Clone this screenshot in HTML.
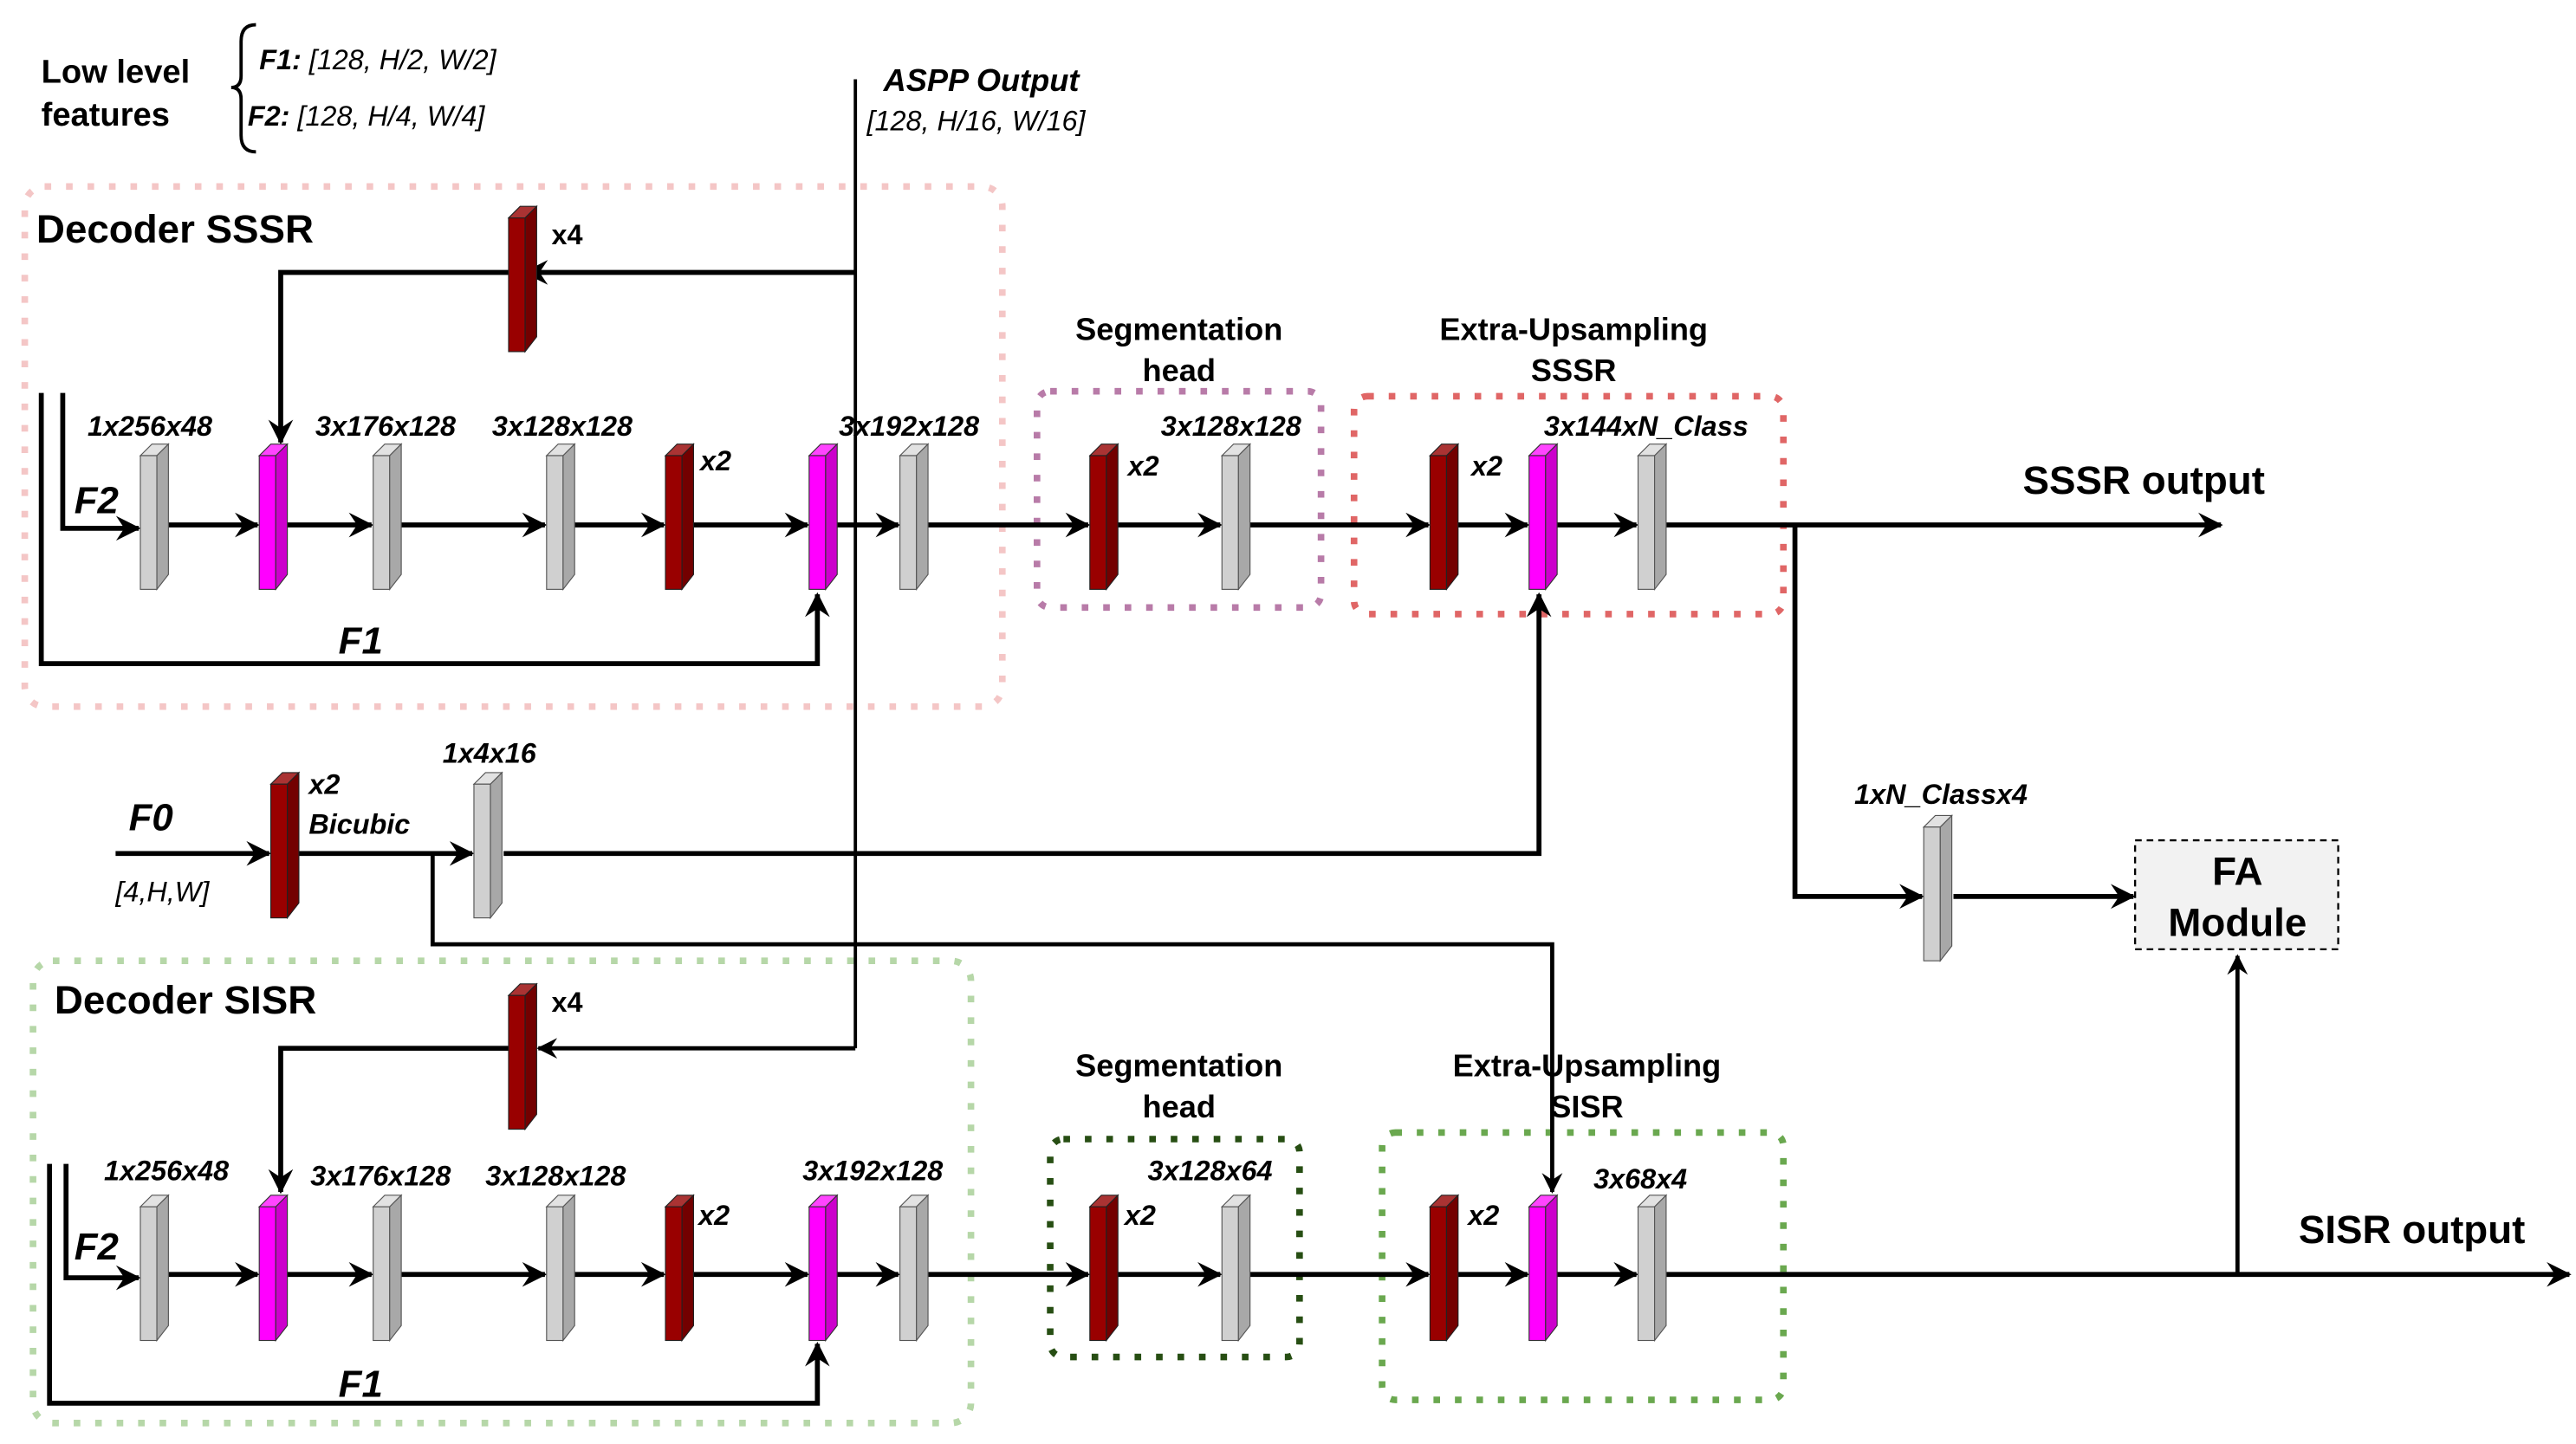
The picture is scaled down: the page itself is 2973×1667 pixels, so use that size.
<!DOCTYPE html>
<html><head><meta charset="utf-8"><style>
html,body{margin:0;padding:0;background:#fff;}
svg{display:block;}
text{font-family:"Liberation Sans",Arial,sans-serif;fill:#000;}
.b{font-weight:bold;}
.bi{font-weight:bold;font-style:italic;}
.i{font-style:italic;}
</style></head><body>
<svg width="2973" height="1667" viewBox="0 0 1560 874.7" preserveAspectRatio="none" xmlns="http://www.w3.org/2000/svg">
<defs>
<marker id="ar" viewBox="0 0 12 12" refX="11" refY="6" markerWidth="5" markerHeight="5" orient="auto" markerUnits="strokeWidth">
<path d="M0,0 L12,6 L0,12 L4,6 z" fill="#000"/></marker>
<g id="gray"><polygon points="0,7 7,0 17,0 10,7" fill="#e2e2e2" stroke="#555" stroke-width="0.6"/><rect x="0" y="7" width="10" height="81" fill="#d0d0d0" stroke="#555" stroke-width="0.6"/><polygon points="10,7 17,0 17,79 10,88" fill="#a8a8a8" stroke="#555" stroke-width="0.6"/></g>
<g id="mag"><polygon points="0,7 7,0 17,0 10,7" fill="#ff44ff" stroke="#333" stroke-width="0.6"/><rect x="0" y="7" width="10" height="81" fill="#ff00ff" stroke="#333" stroke-width="0.6"/><polygon points="10,7 17,0 17,79 10,88" fill="#cc00cc" stroke="#333" stroke-width="0.6"/></g>
<g id="red"><polygon points="0,7 7,0 17,0 10,7" fill="#aa3333" stroke="#222" stroke-width="0.6"/><rect x="0" y="7" width="10" height="81" fill="#990000" stroke="#222" stroke-width="0.6"/><polygon points="10,7 17,0 17,79 10,88" fill="#730000" stroke="#222" stroke-width="0.6"/></g>
</defs>

<!-- dotted boxes -->
<g fill="none" stroke-width="4" stroke-dasharray="4,9">
<rect x="15" y="113" width="592" height="315" rx="12" stroke="#f4c6c6"/>
<rect x="20" y="582" width="568" height="280" rx="12" stroke="#b6d7a8"/>
<rect x="628" y="237" width="172" height="131" rx="8" stroke="#b87ba8"/>
<rect x="820" y="240" width="260" height="132" rx="8" stroke="#e06666"/>
<rect x="636" y="690" width="151" height="132" rx="8" stroke="#274e13"/>
<rect x="837" y="686" width="243" height="162" rx="8" stroke="#6aa84f"/>
</g>

<!-- top text -->
<text x="25" y="50" class="b" font-size="20">Low level</text>
<text x="25" y="76" class="b" font-size="20">features</text>
<path d="M155,15 Q146,15 146,25 L146,46 Q146,53 140,53 Q146,53 146,60 L146,82 Q146,92 155,92" fill="none" stroke="#000" stroke-width="2"/>
<text x="157" y="42" font-size="17" class="i"><tspan class="bi">F1:</tspan> [128, H/2, W/2]</text>
<text x="150" y="76" font-size="17" class="i"><tspan class="bi">F2:</tspan> [128, H/4, W/4]</text>
<text x="535" y="55" class="bi" font-size="19">ASPP Output</text>
<text x="525" y="79" class="i" font-size="17">[128, H/16, W/16]</text>

<g stroke="#000" stroke-width="3" fill="none">
<!-- ASPP vertical -->
<line x1="518" y1="48" x2="518" y2="635" stroke-width="2"/>
<!-- SSSR decoder -->
<line x1="518" y1="165" x2="318" y2="165" marker-end="url(#ar)"/>
<polyline points="308,165 170,165 170,268" marker-end="url(#ar)"/>
<polyline points="25,238 25,402 495,402 495,360" marker-end="url(#ar)"/>
<polyline points="38,238 38,320 84,320" marker-end="url(#ar)"/>
<line x1="102" y1="318" x2="156" y2="318" marker-end="url(#ar)"/>
<line x1="174" y1="318" x2="225" y2="318" marker-end="url(#ar)"/>
<line x1="243" y1="318" x2="330" y2="318" marker-end="url(#ar)"/>
<line x1="348" y1="318" x2="402" y2="318" marker-end="url(#ar)"/>
<line x1="420" y1="318" x2="489" y2="318" marker-end="url(#ar)"/>
<line x1="507" y1="318" x2="544" y2="318" marker-end="url(#ar)"/>
<line x1="562" y1="318" x2="659" y2="318" marker-end="url(#ar)"/>
<line x1="677" y1="318" x2="739" y2="318" marker-end="url(#ar)"/>
<line x1="757" y1="318" x2="865" y2="318" marker-end="url(#ar)"/>
<line x1="883" y1="318" x2="925" y2="318" marker-end="url(#ar)"/>
<line x1="943" y1="318" x2="991" y2="318" marker-end="url(#ar)"/>
<line x1="1009" y1="318" x2="1345" y2="318" marker-end="url(#ar)"/>
<polyline points="1087,318 1087,543 1164,543" marker-end="url(#ar)"/>
<line x1="1183" y1="543" x2="1292" y2="543" marker-end="url(#ar)"/>
<!-- F0 -->
<line x1="70" y1="517" x2="163" y2="517" marker-end="url(#ar)"/>
<line x1="181" y1="517" x2="286" y2="517" marker-end="url(#ar)"/>
<polyline points="305,517 932,517 932,360" marker-end="url(#ar)"/>
<polyline points="262,517 262,572 940,572 940,722" stroke-width="2.5" marker-end="url(#ar)"/>
<!-- SISR decoder -->
<line x1="518" y1="635" x2="326" y2="635" stroke-width="2.5" marker-end="url(#ar)"/>
<polyline points="308,635 170,635 170,722" marker-end="url(#ar)"/>
<polyline points="30,705 30,850 495,850 495,814" marker-end="url(#ar)"/>
<polyline points="40,705 40,774 84,774" marker-end="url(#ar)"/>
<line x1="102" y1="772" x2="156" y2="772" marker-end="url(#ar)"/>
<line x1="174" y1="772" x2="225" y2="772" marker-end="url(#ar)"/>
<line x1="243" y1="772" x2="330" y2="772" marker-end="url(#ar)"/>
<line x1="348" y1="772" x2="402" y2="772" marker-end="url(#ar)"/>
<line x1="420" y1="772" x2="489" y2="772" marker-end="url(#ar)"/>
<line x1="507" y1="772" x2="544" y2="772" marker-end="url(#ar)"/>
<line x1="562" y1="772" x2="659" y2="772" marker-end="url(#ar)"/>
<line x1="677" y1="772" x2="739" y2="772" marker-end="url(#ar)"/>
<line x1="757" y1="772" x2="865" y2="772" marker-end="url(#ar)"/>
<line x1="883" y1="772" x2="925" y2="772" marker-end="url(#ar)"/>
<line x1="943" y1="772" x2="991" y2="772" marker-end="url(#ar)"/>
<line x1="1009" y1="772" x2="1556" y2="772" marker-end="url(#ar)"/>
<line x1="1355" y1="772" x2="1355" y2="579" stroke-width="2.5" marker-end="url(#ar)"/>
</g>

<!-- FA module -->
<rect x="1293" y="509" width="123" height="66" fill="#f2f2f2" stroke="#000" stroke-width="1.2" stroke-dasharray="4,3"/>
<text x="1355" y="536" class="b" font-size="24" text-anchor="middle">FA</text>
<text x="1355" y="567" class="b" font-size="24" text-anchor="middle">Module</text>

<!-- blocks SSSR -->
<use href="#red" x="308" y="125"/>
<use href="#gray" x="85" y="269"/>
<use href="#mag" x="157" y="269"/>
<use href="#gray" x="226" y="269"/>
<use href="#gray" x="331" y="269"/>
<use href="#red" x="403" y="269"/>
<use href="#mag" x="490" y="269"/>
<use href="#gray" x="545" y="269"/>
<use href="#red" x="660" y="269"/>
<use href="#gray" x="740" y="269"/>
<use href="#red" x="866" y="269"/>
<use href="#mag" x="926" y="269"/>
<use href="#gray" x="992" y="269"/>
<use href="#gray" x="1165" y="494"/>
<use href="#red" x="164" y="468"/>
<use href="#gray" x="287" y="468"/>
<!-- blocks SISR -->
<use href="#red" x="308" y="596"/>
<use href="#gray" x="85" y="724"/>
<use href="#mag" x="157" y="724"/>
<use href="#gray" x="226" y="724"/>
<use href="#gray" x="331" y="724"/>
<use href="#red" x="403" y="724"/>
<use href="#mag" x="490" y="724"/>
<use href="#gray" x="545" y="724"/>
<use href="#red" x="660" y="724"/>
<use href="#gray" x="740" y="724"/>
<use href="#red" x="866" y="724"/>
<use href="#mag" x="926" y="724"/>
<use href="#gray" x="992" y="724"/>

<!-- labels -->
<text x="22" y="147" class="b" font-size="24">Decoder SSSR</text>
<text x="33" y="614" class="b" font-size="24">Decoder SISR</text>
<text x="334" y="148" class="b" font-size="17">x4</text>
<text x="334" y="613" class="b" font-size="17">x4</text>
<g class="bi" font-size="17">
<text x="53" y="264">1x256x48</text>
<text x="191" y="264">3x176x128</text>
<text x="298" y="264">3x128x128</text>
<text x="424" y="285">x2</text>
<text x="508" y="264">3x192x128</text>
<text x="703" y="264">3x128x128</text>
<text x="683" y="288">x2</text>
<text x="891" y="288">x2</text>
<text x="935" y="264">3x144xN_Class</text>
<text x="1123" y="487">1xN_Classx4</text>
<text x="268" y="462">1x4x16</text>
<text x="187" y="481">x2</text>
<text x="187" y="505">Bicubic</text>
<text x="63" y="715">1x256x48</text>
<text x="188" y="718">3x176x128</text>
<text x="294" y="718">3x128x128</text>
<text x="423" y="742">x2</text>
<text x="486" y="715">3x192x128</text>
<text x="695" y="715">3x128x64</text>
<text x="681" y="742">x2</text>
<text x="889" y="742">x2</text>
<text x="965" y="720">3x68x4</text>
</g>
<g class="bi" font-size="23">
<text x="45" y="311">F2</text>
<text x="205" y="396">F1</text>
<text x="45" y="763">F2</text>
<text x="205" y="846">F1</text>
<text x="78" y="503">F0</text>
</g>
<text x="70" y="546" class="i" font-size="17">[4,H,W]</text>
<g class="b" font-size="19" text-anchor="middle">
<text x="714" y="206">Segmentation</text>
<text x="714" y="231">head</text>
<text x="953" y="206">Extra-Upsampling</text>
<text x="953" y="231">SSSR</text>
<text x="714" y="652">Segmentation</text>
<text x="714" y="677">head</text>
<text x="961" y="652">Extra-Upsampling</text>
<text x="961" y="677">SISR</text>
</g>
<text x="1225" y="299" class="b" font-size="24">SSSR output</text>
<text x="1392" y="753" class="b" font-size="24">SISR output</text>
</svg>
</body></html>
